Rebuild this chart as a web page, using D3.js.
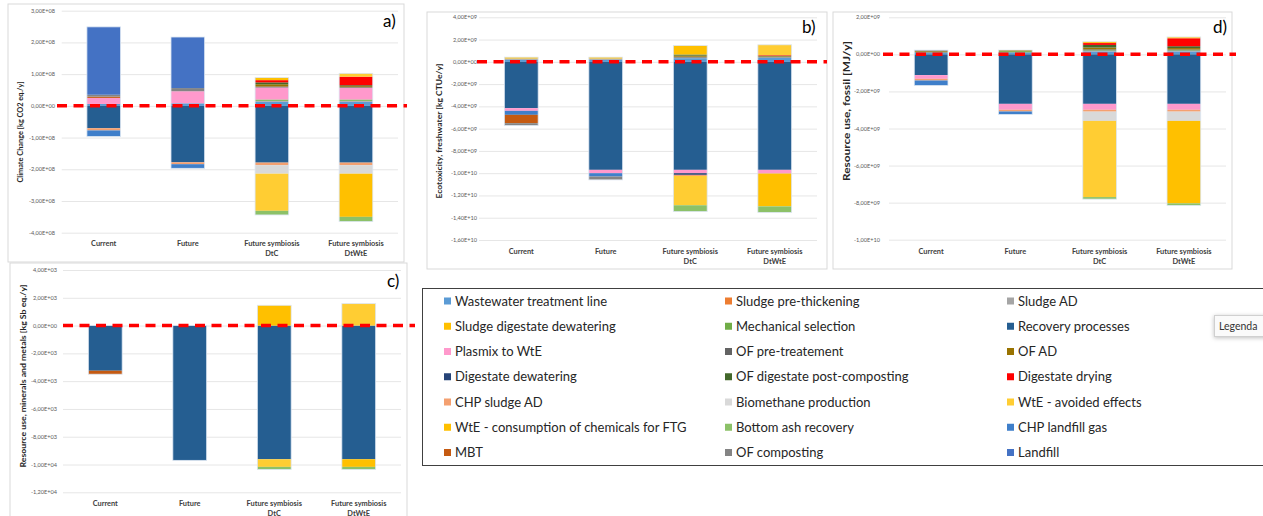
<!DOCTYPE html>
<html>
<head>
<meta charset="utf-8">
<script src="https://cdn.jsdelivr.net/npm/d3@7"></script>
<style>
  body { margin: 0; background: #fff; }
  svg { display: block; font-family: Lato, "Open Sans", sans-serif; }
</style>
</head>
<body>
<svg id="fig" width="1263" height="516"></svg>
<script>
// scenario labels (two lines each)
const scenarios = [['Current'], ['Future'], ['Future symbiosis', 'DtC'], ['Future symbiosis', 'DtWtE']];

// processes, in legend order
const processes = [
  'Wastewater treatment line', 'Sludge pre-thickening', 'Sludge AD',
  'Sludge digestate dewatering', 'Mechanical selection', 'Recovery processes',
  'Plasmix to WtE', 'OF pre-treatement', 'OF AD',
  'Digestate dewatering', 'OF digestate post-composting', 'Digestate drying',
  'CHP sludge AD', 'Biomethane production', 'WtE - avoided effects',
  'WtE - consumption of chemicals for FTG', 'Bottom ash recovery', 'CHP landfill gas',
  'MBT', 'OF composting', 'Landfill'
];

const colors = [
  '#5B9BD5', '#ED7D31', '#A5A5A5', '#FFC000', '#70AD47', '#255E91',
  '#FF99CC', '#636363', '#997300', '#264478', '#43682B', '#FF0000',
  '#F4A070', '#D9D9D9', '#FFCD33', '#FFC000', '#8CC168', '#3F7FCA',
  '#C55A11', '#848484', '#4472C4'
];

// a) climate change, x1e8 kg CO2 eq./y  (one row per scenario, legend order)
const climate = [
  [0.06, 0, 0, 0, 0, -0.705, 0.19, 0, 0, 0, 0, 0, -0.07, 0, 0, 0, 0, -0.19, 0.04, 0.06, 2.14],
  [0.08, 0, 0, 0, 0, -1.78, 0.38, 0, 0, 0, 0, 0, -0.06, 0, 0, 0, 0, -0.13, 0, 0.10, 1.61],
  [0.13, 0, 0.03, 0, 0.04, -1.79, 0.38, 0.03, 0.07, 0, 0.06, 0.07, -0.08, -0.27, -1.17, 0.08, -0.13, 0, 0, 0, 0],
  [0.13, 0, 0.03, 0, 0.04, -1.79, 0.37, 0.02, 0.03, 0, 0.03, 0.27, -0.08, -0.27, 0.105, -1.36, -0.15, 0, 0, 0, 0]
];

// b) ecotoxicity freshwater, x1e9 kg CTUe/y
const ecotox = [
  [0.18, 0, 0.12, 0.12, 0, -4.16, -0.24, 0, 0, 0, 0, 0, 0, 0, 0, 0, 0, -0.36, -0.75, -0.21, 0],
  [0.18, 0, 0.12, 0.12, 0, -9.7, -0.3, 0, 0, 0, 0, 0, 0, 0, 0, 0, 0, -0.3, 0, -0.3, 0],
  [0.33, 0, 0.05, 0, 0, -9.7, -0.3, 0.08, 0.1, -0.15, 0.1, 0, -0.1, 0, -2.63, 0.8, -0.57, 0, 0, 0, 0],
  [0.35, 0, 0.05, 0, 0, -9.7, -0.3, 0.05, 0.05, 0, 0.05, 0.05, -0.05, 0, 0.93, -2.93, -0.54, 0, 0, 0, 0]
];

// c) resource use minerals and metals, x1e3 kg Sb eq./y
const minerals = [
  [0, 0, 0, 0, 0, -3.25, 0, 0, 0, 0, 0, 0, 0, 0, 0, 0, 0, 0, -0.25, 0, 0],
  [0, 0, 0, 0, 0, -9.7, 0, 0, 0, 0, 0, 0, 0, 0, 0, 0, 0, 0, 0, 0, 0],
  [0, 0, 0, 0, 0, -9.62, 0, 0, 0, 0, 0, 0, 0, 0, -0.55, 1.46, -0.19, 0, 0, 0, 0],
  [0, 0, 0, 0, 0, -9.62, 0, 0, 0, 0, 0, 0, 0, 0, 1.58, -0.55, -0.19, 0, 0, 0, 0]
];

// d) resource use fossil, x1e9 MJ/y
const fossil = [
  [0.11, 0, 0, 0, 0, -1.12, -0.2, 0, 0.06, 0, 0, 0, -0.09, 0, 0, 0, 0, -0.27, 0, 0.06, 0],
  [0.11, 0, 0, 0, 0.06, -2.67, -0.32, 0, 0.06, 0, 0, 0, -0.09, 0, 0, 0, 0, -0.16, 0, 0, 0],
  [0.16, 0, 0.03, 0, 0.03, -2.67, -0.32, 0.05, 0.1, 0, 0.14, 0.1, -0.1, -0.5, -4.11, 0.07, -0.11, 0, 0, 0, 0],
  [0.16, 0, 0.03, 0, 0.03, -2.67, -0.32, 0.04, 0.08, 0, 0.1, 0.43, -0.1, -0.5, 0.07, -4.45, -0.11, 0, 0, 0, 0]
];

const climateTicks = [3e8, 2e8, 1e8, 0, -1e8, -2e8, -3e8, -4e8];
const ecotoxTicks = [4e9, 2e9, 0, -2e9, -4e9, -6e9, -8e9, -1e10, -1.2e10, -1.4e10, -1.6e10];
const mineralTicks = [4e3, 2e3, 0, -2e3, -4e3, -6e3, -8e3, -1e4, -1.2e4];
const fossilTicks = [2e9, 0, -2e9, -4e9, -6e9, -8e9, -1e10];

const svg = d3.select('#fig');
svg.append('rect').attr('width', 1263).attr('height', 516).attr('fill', '#fff');

// excel style "3,00E+08"
function sci(v) {
  if (v === 0) return '0,00E+00';
  const e = Math.floor(Math.log10(Math.abs(v)) + 1e-9);
  const m = v / Math.pow(10, e);
  return m.toFixed(2).replace('.', ',') + 'E' + (e < 0 ? '-' : '+') + String(Math.abs(e)).padStart(2, '0');
}

function drawPanel(p) {
  const g = svg.append('g');

  g.append('rect')
    .attr('x', p.frame[0]).attr('y', p.frame[1])
    .attr('width', p.frame[2] - p.frame[0]).attr('height', p.frame[3] - p.frame[1])
    .attr('fill', '#fff').attr('stroke', '#D9D9D9').attr('stroke-width', 1);

  const y = d3.scaleLinear().domain(p.domain).range(p.yRange);
  const x = d3.scaleBand().domain(d3.range(4)).range(p.xRange).paddingInner(0.6).paddingOuter(0.3);

  // gridlines + tick labels
  g.append('g')
    .attr('transform', `translate(${p.xRange[0]},0)`)
    .call(d3.axisLeft(y).tickValues(p.ticks).tickSize(-(p.xRange[1] - p.xRange[0])).tickFormat(''))
    .call(s => s.select('.domain').remove())
    .call(s => s.selectAll('line').attr('stroke', '#E6E6E6'));

  g.append('g')
    .selectAll('text')
    .data(p.ticks)
    .join('text')
    .attr('x', p.labelX)
    .attr('y', d => y(d) + 2)
    .attr('text-anchor', 'end')
    .attr('font-size', 5.6)
    .attr('fill', '#595959')
    .text(sci);

  // stacked bars
  const rows = p.data.map(r => r.map(v => v * p.unit));
  const stack = d3.stack()
    .keys(d3.range(processes.length))
    .value((d, k) => d[k])
    .offset(d3.stackOffsetDiverging)(rows);

  g.append('g')
    .selectAll('g')
    .data(stack)
    .join('g')
    .attr('fill', d => colors[d.key])
    .selectAll('rect')
    .data(d => d.map((s, i) => ({ s, i })).filter(o => o.s[1] - o.s[0] !== 0))
    .join('rect')
    .attr('x', o => x(o.i))
    .attr('width', x.bandwidth())
    .attr('y', o => y(o.s[1]))
    .attr('height', o => y(o.s[0]) - y(o.s[1]));

  // light outline of each column
  g.append('g')
    .selectAll('rect')
    .data(rows)
    .join('rect')
    .attr('x', (d, i) => x(i))
    .attr('width', x.bandwidth())
    .attr('y', d => y(d3.sum(d, v => Math.max(v, 0))))
    .attr('height', d => y(d3.sum(d, v => Math.min(v, 0))) - y(d3.sum(d, v => Math.max(v, 0))))
    .attr('fill', 'none')
    .attr('stroke', '#DCE6F2')
    .attr('stroke-width', 0.8);

  // category labels
  const cat = g.append('g')
    .selectAll('text')
    .data(scenarios)
    .join('text')
    .attr('x', (d, i) => x(i) + x.bandwidth() / 2)
    .attr('y', p.catY)
    .attr('text-anchor', 'middle')
    .attr('font-size', 7.4)
    .attr('font-weight', 'bold')
    .attr('fill', '#404040');
  cat.selectAll('tspan')
    .data(d => d)
    .join('tspan')
    .attr('x', function () { return d3.select(this.parentNode).attr('x'); })
    .attr('dy', (d, i) => (i === 0 ? 0 : 10))
    .text(d => d);

  // axis title
  g.append('text')
    .attr('transform', `translate(${p.titleX},${p.titleY}) rotate(-90)`)
    .attr('text-anchor', 'middle')
    .attr('dy', '0.35em')
    .attr('font-size', p.titleSize)
    .attr('font-weight', 'bold')
    .attr('fill', '#262626')
    .attr('textLength', p.titleLen)
    .attr('lengthAdjust', 'spacingAndGlyphs')
    .text(p.title);

  // zero line
  g.append('line')
    .attr('x1', p.dash[0]).attr('x2', p.dash[1])
    .attr('y1', y(0)).attr('y2', y(0))
    .attr('stroke', '#FF0000')
    .attr('stroke-width', 3.5)
    .attr('stroke-dasharray', '10,6.5');

  // panel tag
  g.append('text')
    .attr('x', p.tag[1]).attr('y', p.tag[2])
    .attr('font-size', 17)
    .attr('fill', '#000')
    .text(p.tag[0]);
}

drawPanel({
  data: climate, unit: 1e8, ticks: climateTicks,
  domain: [-4e8, 3e8], yRange: [232.7, 10.7], xRange: [61.7, 398], labelX: 55,
  frame: [8, 4, 404, 262], dash: [57, 407], catY: 246,
  title: 'Climate Change [kg CO2 eq./y]', titleX: 20, titleY: 132, titleSize: 7.2, titleLen: 101,
  tag: ['a)', 383, 27]
});

drawPanel({
  data: ecotox, unit: 1e9, ticks: ecotoxTicks,
  domain: [-1.6e10, 4e9], yRange: [240, 17.3], xRange: [479, 817], labelX: 477,
  frame: [427, 12, 827, 269], dash: [477, 827], catY: 253.5,
  title: 'Ecotoxicity, freshwater [kg CTUe/y]', titleX: 439, titleY: 131, titleSize: 7.4, titleLen: 135,
  tag: ['b)', 802, 33]
});

drawPanel({
  data: fossil, unit: 1e9, ticks: fossilTicks,
  domain: [-1e10, 2e9], yRange: [239.7, 17.3], xRange: [889, 1226], labelX: 880,
  frame: [833, 12, 1232, 269], dash: [883, 1236], catY: 253.5,
  title: 'Resource use, fossil [MJ/y]', titleX: 847, titleY: 111, titleSize: 8.5, titleLen: 140,
  tag: ['d)', 1213, 33]
});

drawPanel({
  data: minerals, unit: 1e3, ticks: mineralTicks,
  domain: [-1.2e4, 4e3], yRange: [492.3, 270], xRange: [63, 401], labelX: 57,
  frame: [10, 263, 407, 530], dash: [63, 415], catY: 505.5,
  title: 'Resource use, minerals and metals [kg Sb eq./y]', titleX: 23, titleY: 376, titleSize: 7.4, titleLen: 183,
  tag: ['c)', 387, 287]
});

// legend
const legend = svg.append('g');
legend.append('rect')
  .attr('x', 422.5).attr('y', 288.5).attr('width', 850).attr('height', 177)
  .attr('fill', '#fff').attr('stroke', '#404040').attr('stroke-width', 1);

const colX = [444, 725, 1007];
const item = legend.selectAll('g.item')
  .data(processes)
  .join('g')
  .attr('class', 'item')
  .attr('transform', (d, i) => `translate(${colX[i % 3]},${301 + Math.floor(i / 3) * 25.25})`);
item.append('rect')
  .attr('x', 0).attr('y', -3.5).attr('width', 7).attr('height', 7)
  .attr('fill', (d, i) => colors[i]);
item.append('text')
  .attr('x', 11).attr('dy', '0.35em')
  .attr('font-size', 13)
  .attr('fill', '#262626')
  .text(d => d);

// "Legenda" tooltip
const tip = svg.append('g');
tip.append('rect')
  .attr('x', 1214.5).attr('y', 315.5).attr('width', 60).attr('height', 21)
  .attr('fill', '#fafafa').attr('stroke', '#d0d0d0')
  .style('filter', 'drop-shadow(0px 1px 2px rgba(0,0,0,0.25))');
tip.append('text')
  .attr('x', 1219).attr('y', 330)
  .attr('font-size', 10.5).attr('fill', '#333')
  .text('Legenda');
</script>
</body>
</html>
